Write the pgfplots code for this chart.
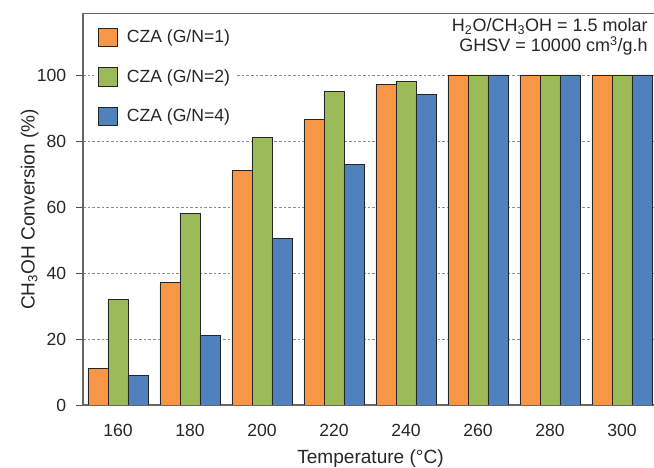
\documentclass[border=0pt]{standalone}
\usepackage{fontspec}
\setmainfont{Liberation Sans}
\usepackage{pgfplots}
\pgfplotsset{compat=1.18}
\definecolor{cor}{HTML}{F79646}
\definecolor{cgr}{HTML}{9BBB59}
\definecolor{cbl}{HTML}{4F81BD}
\begin{document}
\begin{tikzpicture}
\path[use as bounding box] (0,0) rectangle (490.5pt,351pt);
\begin{axis}[
  at={(62.25pt,47.25pt)}, anchor=south west,
  x=54pt, y=2.475pt,
  xmin=-0.486, xmax=7.5, ymin=0, ymax=118.5,
  ybar=0pt, bar width=15pt,
  xtick={0,1,2,3,4,5,6,7},
  xticklabels={160,180,200,220,240,260,280,300},
  ytick={0,20,40,60,80,100},
  xtick style={draw=none},
  ytick pos=left, tick align=outside,
  major tick length=5pt,
  tick style={black!70, line width=0.6pt},
  ymajorgrids,
  grid style={black!45, dash pattern=on 2pt off 1.5pt, line width=0.5pt},
  axis line style={black!60, line width=0.8pt},
  /pgf/number format/assume math mode=true,
  tick label style={font=\fontsize{13.2}{15}\selectfont, text=black!85},
  xticklabel style={yshift=-6pt},
  yticklabel style={xshift=-4pt},
  label style={font=\fontsize{14.3}{16}\selectfont, text=black!85},
  xlabel={Temperature (°C)},
  ylabel={CH\textsubscript{3}OH Conversion (\%)},
  xlabel style={at={(axis description cs:0.5,0)}, anchor=center, yshift=-40pt},
  ylabel style={at={(axis description cs:0,0.5)}, anchor=center, yshift=40pt},
  legend image code/.code={\draw[#1] (0pt,-7pt) rectangle (14pt,7pt); \path (19pt,0pt);},
  legend style={at={(axis description cs:0,1)}, anchor=north west,
    xshift=8pt, yshift=-8pt, draw=none, fill=white,
    font=\fontsize{13.2}{15}\selectfont, row sep=14.5pt, text=black!85},
  legend cell align=left,
]
\addplot[fill=cor, draw=black!85, line width=0.7pt] coordinates {(0,11) (1,37) (2,71) (3,86.5) (4,97) (5,100) (6,100) (7,100)};
\addplot[fill=cgr, draw=black!85, line width=0.7pt] coordinates {(0,32) (1,58) (2,81) (3,95) (4,98) (5,100) (6,100) (7,100)};
\addplot[fill=cbl, draw=black!85, line width=0.7pt] coordinates {(0,9) (1,21) (2,50.5) (3,73) (4,94) (5,100) (6,100) (7,100)};
\legend{CZA (G/N=1),CZA (G/N=2),CZA (G/N=4)}
\end{axis}
\node[anchor=north east, align=right, inner sep=0pt, font=\fontsize{13.5}{15}\selectfont, text=black!85] at (486pt,337pt)
  {H\textsubscript{2}O/CH\textsubscript{3}OH = 1.5 molar\\GHSV = 10000 cm\textsuperscript{3}/g.h};
\end{tikzpicture}
\end{document}
